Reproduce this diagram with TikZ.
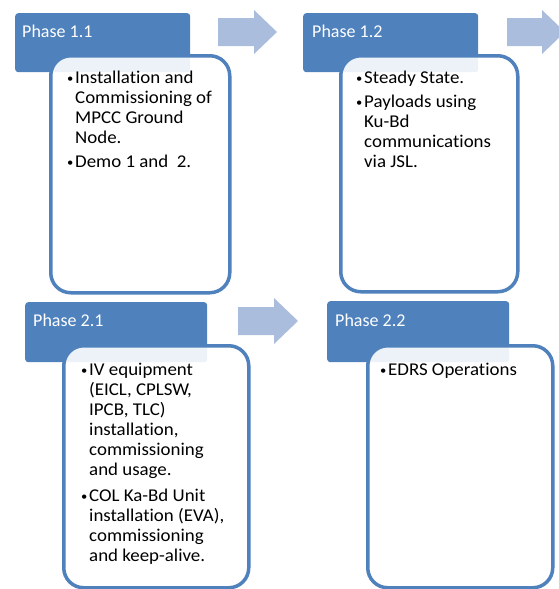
\documentclass[tikz,border=0pt]{standalone}
\usepackage{fontspec}
\setmainfont{Carlito}
\newfontfamily\bodyfont[FakeStretch=1.05,Ligatures=NoCommon]{Carlito}
\definecolor{hdrblue}{RGB}{79,129,189}
\definecolor{arrblue}{RGB}{170,189,221}
\tikzset{
  hdr/.style={fill=hdrblue, draw=none, rounded corners=3pt, inner sep=0pt, anchor=north west},
  phasebox/.style={draw=hdrblue, line width=3.5pt, fill=white, fill opacity=0.9, draw opacity=1, rounded corners=20pt, inner sep=0pt, anchor=north west},
  hlabel/.style={text=white, font=\fontsize{18}{20}\selectfont, inner sep=0pt, anchor=base west},
  body/.style={text=black, font=\bodyfont\fontsize{18}{20}\selectfont, inner sep=0pt, anchor=base west},
  procarrow/.style={fill=arrblue, draw=none}
}
\newcommand\bulitem{\makebox[8pt][l]{\raisebox{0.5pt}{\fontsize{12}{12}\selectfont\textbullet}}}
\begin{document}
\begin{tikzpicture}[x=1pt,y=-1pt]
\clip (0,0) rectangle (559,589);
\fill[white] (0,0) rectangle (559,589);
% headers
\node[hdr, minimum width=175, minimum height=59] (h11) at (15,13) {};
\node[hdr, minimum width=175, minimum height=59] (h12) at (303,13) {};
\node[hdr, minimum width=182, minimum height=60] (h21) at (25,302) {};
\node[hdr, minimum width=182, minimum height=61] (h22) at (327,301) {};
\node[hlabel] (l11) at (22,37) {Phase 1.1};
\node[hlabel] (l12) at (312,37) {Phase 1.2};
\node[hlabel] (l21) at (33,326) {Phase 2.1};
\node[hlabel] (l22) at (335,326) {Phase 2.2};
% arrows
\path[procarrow] (218,18) -- (254,18) -- (254,10) -- (277,32) -- (254,54) -- (254,46) -- (218,46) -- cycle;
\path[procarrow] (507,18) -- (542,18) -- (542,10) -- (565,32) -- (542,54) -- (542,46) -- (507,46) -- cycle;
\path[procarrow] (238,307) -- (274,307) -- (274,298) -- (298,321) -- (274,344) -- (274,335) -- (238,335) -- cycle;
% boxes
\node[phasebox, minimum width=179, minimum height=237] (b11) at (49,54) {};
\node[phasebox, minimum width=177, minimum height=236] (b12) at (339,54) {};
\node[phasebox, minimum width=185, minimum height=242] (b21) at (62,344) {};
\node[phasebox, minimum width=185, minimum height=242] (b22) at (366,344) {};
% texts
\node[body] (t11) at (67,83) {\begin{tabular}[t]{@{}l@{}l@{}}
\bulitem & Installation and\\
 & Commissioning of\\
 & MPCC Ground\\
 & Node.\\[4pt]
\bulitem & Demo 1 and\ \ 2.
\end{tabular}};
\node[body] (t12) at (356,83) {\begin{tabular}[t]{@{}l@{}l@{}}
\bulitem & Steady State.\\[4pt]
\bulitem & Payloads using\\
 & Ku-Bd\\
 & communications\\
 & via JSL.
\end{tabular}};
\node[body] (t21) at (81,375) {\begin{tabular}[t]{@{}l@{}l@{}}
\bulitem & IV equipment\\
 & (EICL, CPLSW,\\
 & IPCB, TLC)\\
 & installation,\\
 & commissioning\\
 & and usage.\\[6pt]
\bulitem & COL Ka-Bd Unit\\
 & installation (EVA),\\
 & commissioning\\
 & and keep-alive.
\end{tabular}};
\node[body] (t22) at (380,375) {\begin{tabular}[t]{@{}l@{}l@{}}
\bulitem & EDRS Operations
\end{tabular}};
\end{tikzpicture}
\end{document}
